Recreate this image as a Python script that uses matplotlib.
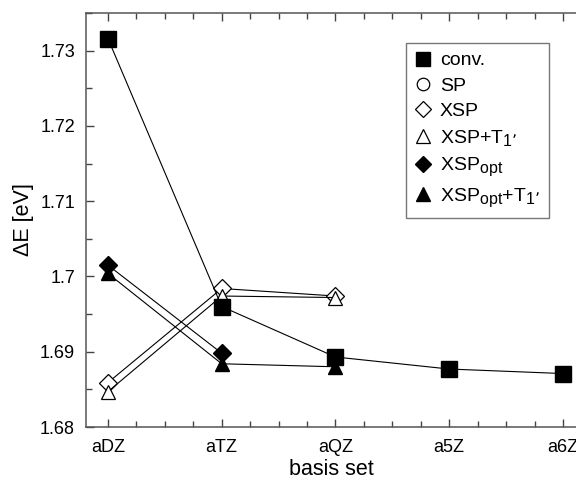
import matplotlib
matplotlib.use("Agg")
import matplotlib.pyplot as plt
from matplotlib.ticker import MultipleLocator
import matplotlib._mathtext as _mt

_mt.SHRINK_FACTOR = 0.82

plt.rcParams['font.family'] = ['Liberation Sans', 'DejaVu Sans']
plt.rcParams['mathtext.default'] = 'regular'

basis = ["aDZ", "aTZ", "aQZ", "a5Z", "a6Z"]
x_pos = [1, 2, 3, 4, 5]

conv = [1.7316, 1.6960, 1.6893, 1.6877, 1.6871]
sp = []
xsp = [1.6859, 1.6984, 1.6974]
xsp_t1 = [1.6847, 1.6974, 1.6972]
xsp_opt = [1.7015, 1.6898]
xsp_opt_t1 = [1.7004, 1.6884, 1.6880]

fig = plt.figure(figsize=(5.76, 4.83), dpi=100)
ax_left, ax_right, ax_bottom, ax_top = 86, 576, 427, 13
ax = fig.add_axes([ax_left/576, 1 - ax_bottom/483, (ax_right - ax_left)/576,
                   (ax_bottom - ax_top)/483])

lw = 0.8
ax.plot(x_pos[:len(xsp)], xsp, color='black', lw=lw, marker='D', ms=9.5,
        mfc='white', mec='black', mew=0.9, label='XSP', zorder=3)
ax.plot(x_pos[:len(xsp_t1)], xsp_t1, color='black', lw=lw, marker='^', ms=10.5,
        mfc='white', mec='black', mew=0.9, label="XSP+T$_{1’}$", zorder=3)
ax.plot(x_pos[:len(xsp_opt)], xsp_opt, color='black', lw=lw, marker='D', ms=9.5,
        mfc='black', mec='black', label="XSP$_{opt}$", zorder=4)
ax.plot(x_pos[:len(xsp_opt_t1)], xsp_opt_t1, color='black', lw=lw, marker='^', ms=10.5,
        mfc='black', mec='black', label="XSP$_{opt}$+T$_{1’}$", zorder=4)
ax.plot(x_pos[:len(conv)], conv, color='black', lw=lw, marker='s', ms=11.5,
        mfc='black', mec='black', label='conv.', zorder=5)
ax.plot(x_pos[:len(sp)], sp, color='black', lw=0, marker='o', ms=10,
        mfc='white', mec='black', mew=0.9, label='SP')

ax.set_xlim(0.807, 5.114)
ax.set_ylim(1.68, 1.735)
ax.set_xticks(x_pos)
ax.set_xticklabels(basis)
ax.xaxis.set_minor_locator(MultipleLocator(0.25))
ax.set_yticks([1.68, 1.69, 1.70, 1.71, 1.72, 1.73])
ax.set_yticklabels(["1.68", "1.69", "1.7", "1.71", "1.72", "1.73"])
ax.yaxis.set_minor_locator(MultipleLocator(0.005))

ax.tick_params(which='both', direction='in', top=True, right=False,
               labelsize=13, color='#444444')
ax.tick_params(which='major', length=6, width=1)
ax.tick_params(which='minor', length=4, width=1)
ax.tick_params(axis='x', which='major', pad=9)
ax.tick_params(axis='y', which='major', pad=8)
for s in ['left', 'bottom', 'top']:
    ax.spines[s].set_color('#555555')
    ax.spines[s].set_linewidth(1.1)
ax.spines['right'].set_visible(False)

ax.set_xlabel("basis set", fontsize=15.5, labelpad=2)
ax.set_ylabel("ΔE [eV]", fontsize=15.5, labelpad=4)

handles, labels = ax.get_legend_handles_labels()
order = ['conv.', 'SP', 'XSP', "XSP+T$_{1’}$", "XSP$_{opt}$", "XSP$_{opt}$+T$_{1’}$"]
hmap = dict(zip(labels, handles))
aw = ax_right - ax_left
ah = ax_bottom - ax_top
leg = ax.legend([hmap[o] for o in order], order, loc='upper left',
                bbox_to_anchor=((406 - ax_left)/aw, 1 - (43 - ax_top)/ah),
                bbox_transform=ax.transAxes,
                fontsize=14, frameon=True, fancybox=False, edgecolor='#555555',
                handlelength=0.85, handletextpad=0.45, labelspacing=0.4,
                borderpad=0.45, borderaxespad=0, numpoints=1, markerscale=0.9)
leg.get_frame().set_linewidth(1.0)
for h in leg.legend_handles:
    h.set_linestyle('None')

fig.savefig("out.png", dpi=100)
